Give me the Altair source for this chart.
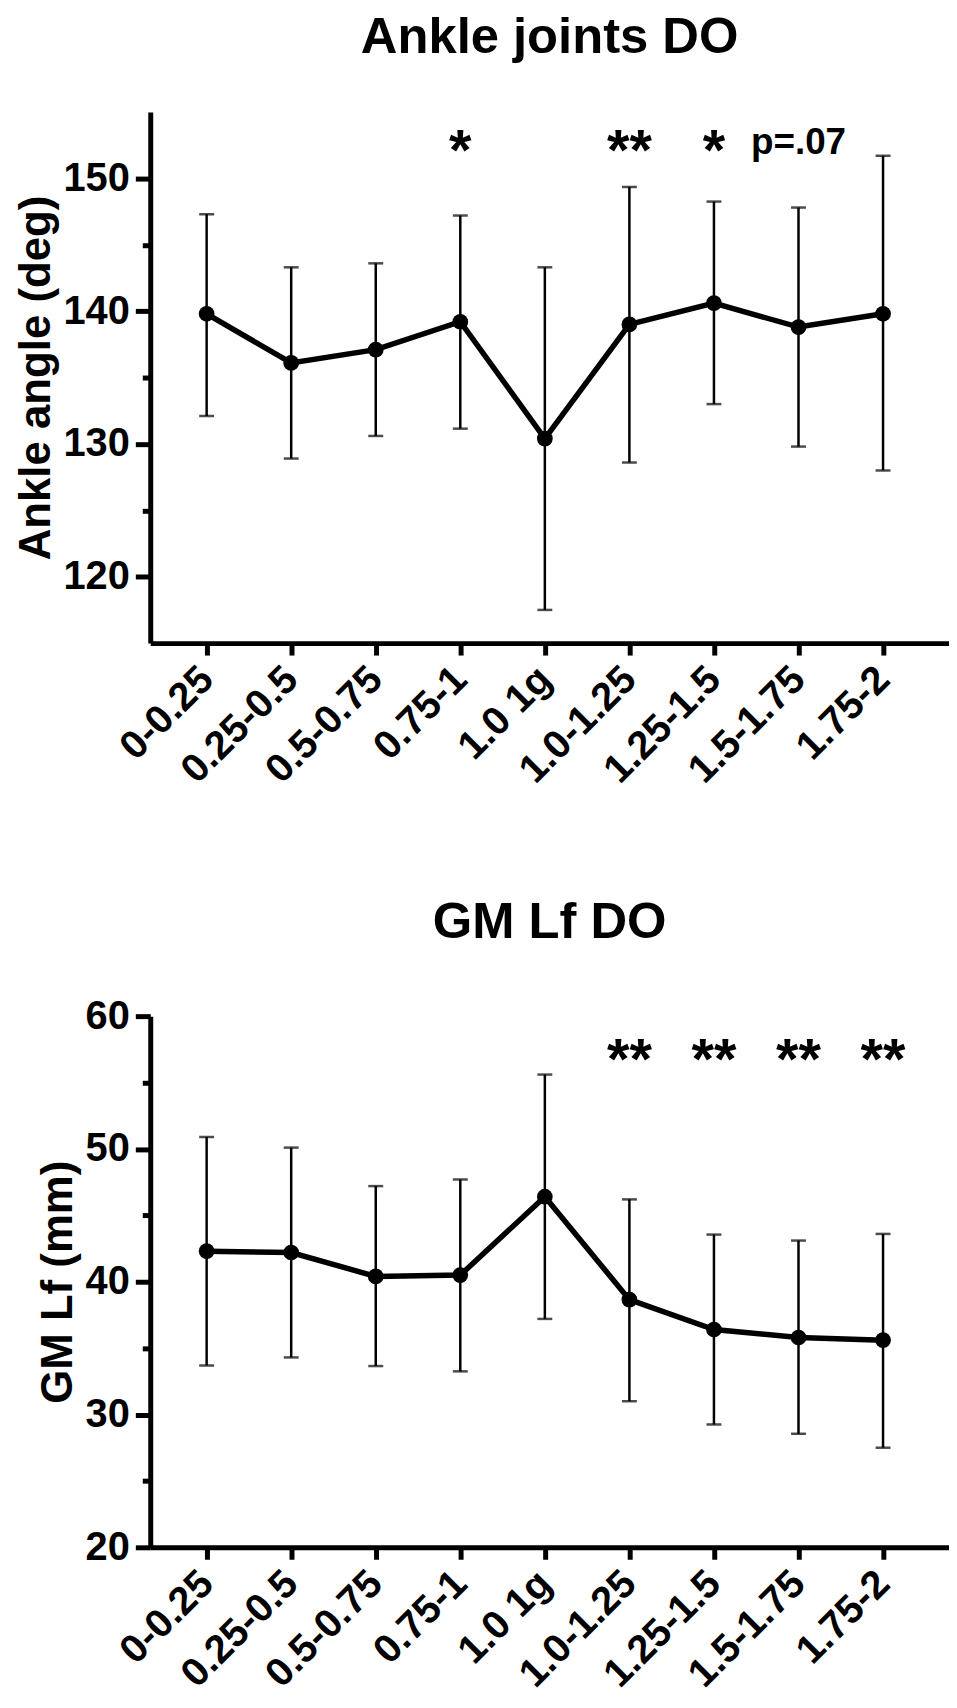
import json
import altair as alt
import pandas as pd

# ---------------- data ----------------
categories = ["0-0.25", "0.25-0.5", "0.5-0.75", "0.75-1", "1.0 1g",
              "1.0-1.25", "1.25-1.5", "1.5-1.75", "1.75-2"]

ankle_mean = [139.8, 136.1, 137.1, 139.2, 130.4, 139.0, 140.6, 138.8, 139.8]
ankle_upper = [147.3, 143.3, 143.6, 147.2, 143.3, 149.35, 148.25, 147.8, 151.7]
ankle_lower = [132.1, 128.9, 130.6, 131.15, 117.5, 128.6, 133.0, 129.8, 128.0]
ankle_stars = ["", "", "", "*", "", "**", "*", "", ""]
ankle_ptext = ["", "", "", "", "", "", "", "p=.07", ""]

gm_mean = [42.3, 42.2, 40.4, 40.5, 46.4, 38.65, 36.4, 35.8, 35.6]
gm_upper = [50.9, 50.1, 47.2, 47.7, 55.6, 46.2, 43.55, 43.1, 43.6]
gm_lower = [33.7, 34.3, 33.65, 33.25, 37.2, 31.0, 29.25, 28.55, 27.5]
gm_stars = ["", "", "", "", "", "**", "**", "**", "**"]
gm_ptext = ["", "", "", "", "", "", "", "", ""]

FONT = "Liberation Sans"


def panel(title, mean, upper, lower, ydom, major, minor, ytitle,
          stars, star_level, ptext, p_level):
    n = len(categories)
    df = pd.DataFrame({"idx": list(range(n)), "cat": categories,
                       "mean": mean, "upper": upper, "lower": lower})
    sdf = pd.DataFrame({"idx": list(range(n)), "s": stars})
    sdf = sdf[sdf["s"] != ""]
    pdf = pd.DataFrame({"idx": list(range(n)), "p": ptext})
    pdf = pdf[pdf["p"] != ""]

    label_expr = json.dumps(categories) + "[datum.value]"
    xaxis = alt.Axis(values=list(range(n)), labelExpr=label_expr, title=None,
                     grid=False, domainWidth=5, domainColor="black",
                     tickColor="black", tickWidth=5, tickSize=12,
                     labelAngle=-45, labelAlign="right", labelBaseline="middle",
                     labelPadding=18, labelFont=FONT, labelFontSize=40,
                     labelFontWeight="bold", labelColor="black",
                     labelOverlap=False, labelFlush=False)
    x = alt.X("idx:Q", scale=alt.Scale(domain=[-0.667, 8.78], nice=False, zero=False),
              axis=xaxis)
    yscale = alt.Scale(domain=ydom, nice=False, zero=False)
    major_axis = alt.Axis(values=major, title=ytitle, orient="left", grid=False,
                          domainWidth=5, domainColor="black", tickColor="black",
                          tickWidth=5, tickSize=15, labelPadding=6,
                          labelFont=FONT, labelFontSize=40, labelFontWeight="bold",
                          labelColor="black", titleFont=FONT, titleFontSize=44,
                          titleFontWeight="bold", titleColor="black",
                          titlePadding=5)
    minor_axis = alt.Axis(values=minor, title=None, orient="left", grid=False,
                          labels=False, domain=False, tickColor="black",
                          tickWidth=5, tickSize=8)

    base = alt.Chart(df)
    rules = base.mark_rule(color="black", strokeWidth=2.5).encode(
        x=x, y=alt.Y("lower:Q", scale=yscale, axis=major_axis), y2="upper:Q")
    cap_hi = base.mark_tick(color="black", orient="horizontal", size=15,
                            thickness=2.5).encode(
        x=x, y=alt.Y("upper:Q", scale=yscale, axis=minor_axis))
    cap_lo = base.mark_tick(color="black", orient="horizontal", size=15,
                            thickness=2.5).encode(
        x=x, y=alt.Y("lower:Q", scale=yscale, axis=None))
    line = base.mark_line(color="black", strokeWidth=5.5).encode(
        x=x, y=alt.Y("mean:Q", scale=yscale, axis=None))
    pts = base.mark_circle(color="black", opacity=1, size=250).encode(
        x=x, y=alt.Y("mean:Q", scale=yscale, axis=None))
    layers = [rules, cap_hi, cap_lo, line, pts]
    if len(sdf):
        st = alt.Chart(sdf).mark_text(font=FONT, fontSize=58, fontWeight="bold",
                                      color="black", baseline="alphabetic",
                                      align="center").encode(
            x=x, y=alt.YDatum(star_level, scale=yscale, axis=None), text="s:N")
        layers.append(st)
    if len(pdf):
        pt = alt.Chart(pdf).mark_text(font=FONT, fontSize=37, fontWeight="bold",
                                      color="black", baseline="alphabetic",
                                      align="center").encode(
            x=x, y=alt.YDatum(p_level, scale=yscale, axis=None), text="p:N")
        layers.append(pt)

    return alt.layer(*layers).resolve_axis(y="independent").properties(
        width=803, height=534,
        title=alt.TitleParams(title, font=FONT, fontSize=51, fontWeight="bold",
                              color="black", anchor="middle", frame="group",
                              baseline="alphabetic", offset=8))


top = panel("Ankle joints DO", ankle_mean, ankle_upper, ankle_lower, [115, 155],
            [120, 130, 140, 150], [125, 135, 145], "Ankle angle (deg)",
            ankle_stars, 150.6, ankle_ptext, 151.8)
bottom = panel("GM Lf DO", gm_mean, gm_upper, gm_lower, [20, 60],
               [20, 30, 40, 50, 60], [25, 35, 45, 55], "GM Lf (mm)",
               gm_stars, 55.3, gm_ptext, 56)

chart = alt.vconcat(top, bottom, spacing=375, bounds="flush").properties(
    padding={"left": 6, "top": 0, "right": 0, "bottom": 0}
).configure(background="white").configure_view(stroke="transparent", strokeWidth=0)

chart.save("out.html", embed_options={"renderer": "svg", "actions": False})
